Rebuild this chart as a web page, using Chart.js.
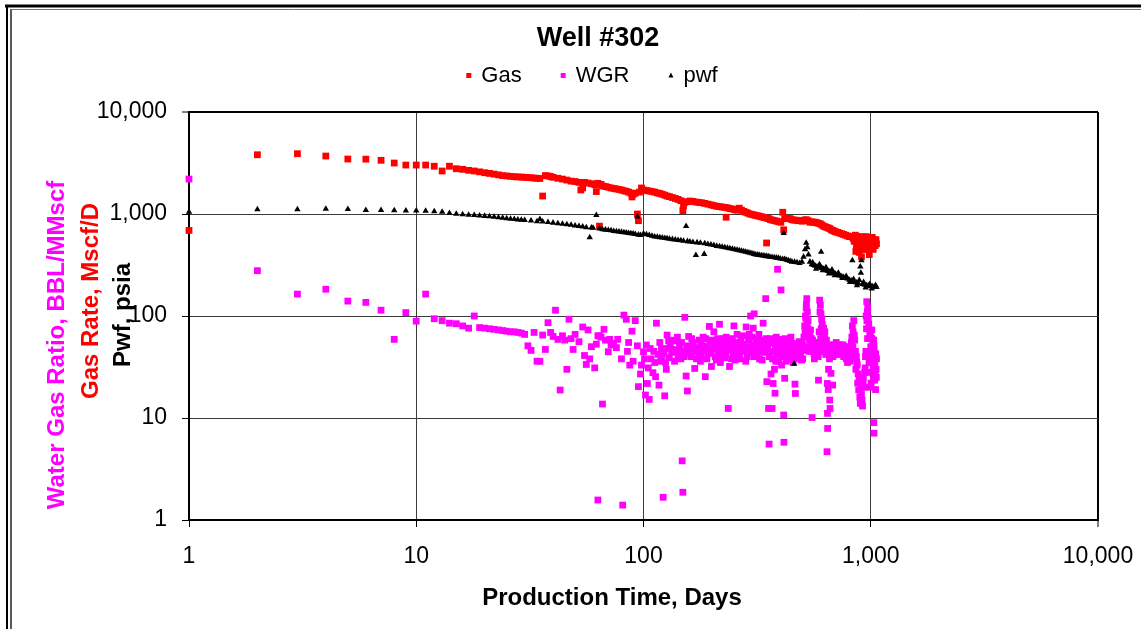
<!DOCTYPE html>
<html>
<head>
<meta charset="utf-8">
<title>Well #302</title>
<script src="https://cdn.jsdelivr.net/npm/chart.js@4.4.0/dist/chart.umd.min.js"></script>
<style>
  html, body { margin: 0; padding: 0; background: #fff; }
  #wrap { width: 1141px; height: 629px; position: relative; }
</style>
</head>
<body>
<div id="wrap"><canvas id="wellChart"></canvas></div>
<script>
// decade ticks used on both log axes
const decadeTicks = [1, 10, 100, 1000, 10000];

const chartTitle = 'Well #302';
const xAxisTitle = 'Production Time, Days';
const seriesLabels = ['Gas', 'WGR', 'pwf'];

// [production day, gas rate Mscf/D]
const gasRate = [
  [1,690],[2,3810],[3,3900],[4,3700],[5,3460],[6,3450],[7,3360],[8,3160],[9,3020],[10,3020],
  [11,3020],[12,2940],[13,2640],[14,2940],[15,2780],[16,2740],[17,2680],[18,2640],[19,2590],[20,2540],
  [21,2500],[22,2460],[23,2420],[24,2380],[25,2360],[26,2340],[27,2320],[28,2310],[29,2300],[30,2290],
  [31,2280],[32,2270],[33,2250],[34,2240],[35,2230],[36,1500],[37,2380],[38,2360],[39,2330],[40,2290],
  [42,2240],[44,2200],[46,2150],[48,2100],[50,2080],[52,2040],[53,1720],[54,1800],[55,2040],[57,2010],
  [59,1980],[61,1940],[62,1660],[63,2000],[64,760],[65,1950],[66,1880],[68,1860],[70,1830],[72,1800],
  [74,1780],[76,1760],[78,1740],[80,1720],[82,1690],[84,1670],[86,1640],[88,1600],[89,1470],[90,1560],
  [92,1600],[94,1000],[95,860],[96,1640],[98,1800],[100,1720],[103,1700],[106,1680],[109,1660],[112,1640],
  [115,1610],[118,1590],[121,1560],[124,1530],[127,1500],[130,1480],[134,1450],[138,1420],[142,1390],[146,1350],
  [149,1080],[150,1200],[152,1300],[156,1320],[160,1340],[165,1330],[170,1310],[175,1300],[180,1290],[186,1270],
  [192,1250],[198,1230],[204,1210],[210,1190],[216,1180],[222,1170],[228,1160],[231,930],[234,1150],[240,1130],
  [246,1120],[252,1100],[258,1090],[264,1140],[270,1090],[276,1060],[282,1040],[288,1020],[294,1000],[300,990],
  [306,980],[312,970],[318,960],[324,950],[330,940],[336,930],[342,920],[348,520],[350,910],[356,900],
  [362,880],[370,870],[378,860],[386,850],[394,840],[402,830],[410,1040],[414,700],[418,900],[426,910],
  [434,900],[442,900],[450,880],[460,870],[470,870],[480,860],[490,860],[500,850],[510,870],[520,880],
  [530,860],[540,830],[550,840],[560,830],[570,830],[580,820],[590,810],[600,800],[610,780],[620,760],
  [630,750],[640,740],[650,730],[660,720],[670,700],[680,690],[690,680],[700,670],[715,660],[730,650],
  [745,640],[760,630],[775,620],[790,610],[805,600],[820,600],[835,580],[845,540],[850,590],[855,620],
  [860,430],[865,500],[870,560],[875,600],[880,590],[885,480],[890,420],[895,570],[900,550],[905,520],
  [910,380],[915,600],[920,560],[925,490],[930,450],[935,580],[940,540],[945,450],[950,560],[955,600],
  [960,520],[965,470],[970,550],[975,580],[980,460],[985,400],[990,540],[995,560],[1000,530],[1005,480],
  [1010,520],[1015,590],[1020,540],[1025,450],[1030,500],[1035,560],[1040,530],[1045,490],[1050,520],[1055,560],
  [1060,510]
];

// [production day, water gas ratio BBL/MMscf]
const waterGasRatio = [
  [1,2200],[2,278],[3,164],[4,183],[5,140],[6,136],[7,114],[8,59],[9,108],[10,89],
  [11,164],[12,94],[13,90],[14,85],[15,84],[16,80],[17,76],[18,100],[19,77],[20,76],
  [21,75],[22,74],[23,73],[24,72],[25,71],[26,70],[27,70],[28,69],[29,68],[30,66],
  [31,51],[32,46],[33,69],[34,36],[35,36],[36,65],[37,47],[38,86],[39,69],[40,63],
  [41,114],[42,59],[43,18.8],[44,64],[45,58],[46,30],[47,93],[48,60],[49,47],[50,66],
  [52,56],[54,78],[55,41],[56,33.5],[57,73],[58,38],[59,50],[61,31],[62,53],[63,64],
  [63,1.57],[64,64],[65,62],[66,13.7],[67,74],[68,58],[70,44.6],[71,59],[72,52],[74,54],
  [76,49],[77,59],[80,38],[81,1.4],[82,102],[84,93],[85,45],[86,55],[87,33],[89,71],
  [90,36],[92,90],[94,51],[95,20.3],[97,27],[98,33],[100,44.6],
  [101,38],[102,16.8],[103,52],[104,21.8],[105,31],[106,15.2],[107,48],[108,38],[110,27.8],[111,45],
  [112,35],[113,25.4],[114,85],[116,42],[117,21],[118,55],[119,36],[120,48],[121,41],[122,1.67],
  [123,44],[124,16.5],[125,35],[126,30],[127,65],[128,48],[129,57],[130,39],[131,50],[133,44],
  [134,47],[136,58],[137,36],[138,46],[140,57],[141,62],[142,41],[144,52],[145,46],[146,38],
  [147,55],[148,3.8],[149,1.87],[150,44],[151,40],[152,97],[154,25.8],[155,51],[156,18.4],[158,63],
  [159,43],[160,48],[162,40],[163,60],[165,55],[167,47],[168,30.6],[170,45],[171,38],[173,49],
  [175,44],[176,58],[178,36],[179,53],[180,41],[182,47],[183,62],[185,51],[187,25.4],[188,60],
  [190,38],[191,50],[193,44],[195,79],[196,43],[197,56],[199,32],[200,58],[202,47],[204,70],
  [205,52],[207,40],[209,37],[210,49],[212,60],[213,47],[215,43],[216,83],[217,55],[218,35],
  [220,52],[221,40],[223,45],[225,60],[226,50],[228,39],[230,42],[231,62],[233,55],[235,46],
  [236,12.4],[239,32],[240,52],[242,48],[244,38],[245,60],[247,56],[248,42],[250,80],[252,45],
  [253,37],[255,48],[257,52],[258,66],[260,40],[262,55],[264,44],[266,38],[268,57],[270,50],
  [272,47],[273,64],[276,45],[278,53],[280,49],[282,36],[283,78],[286,40],[288,50],[290,58],
  [292,66],[293,47],[296,100],[298,44],[300,62],[302,52],[304,76],[306,40],[307,105],[310,44],
  [312,55],[314,48],[316,42],[318,52],[319,60],[322,66],[324,38],[326,46],[328,58],[330,49],
  [333,37],[334,45],[336,85],[338,52],[340,55],[342,44],[345,148],[347,60],[349,22.7],[352,48],
  [355,12.4],[357,5.55],[358,40],
  [361,54],[362,60],[364,27],[366,45],[368,12.4],[370,38],[372,21.8],[374,55],[375,45],[377,30],
  [379,17.5],[381,48],[382,36],[384,62],[386,52],[388,44],[389,287],[391,55],[392,42],[394,36],
  [396,58],[398,47],[400,59],[402,52],[403,180],[405,33],[406,41],[408,58],[410,48],[412,45],
  [414,10.7],[415,5.78],[416,40],[418,24.5],[420,60],[422,50],[424,36],[427,43],[429,48],[432,55],
  [434,44],[436,38],[438,52],[440,40],[443,47],[445,62],[448,38],[450,45],[452,54],[455,35],
  [457,42],[460,50],[462,46],[464,21.5],[466,17.4],[468,52],[470,42],[472,38],[475,48],[478,50],
  [480,43],[482,45],[485,56],[488,47],[490,39],[492,42],[496,37],[498,55],[500,52],[502,38],
  [504,46],[506,48],[508,62],[512,80],
  [514,70],[516,100],[518,95],[520,120],[521,130],[523,148],[524,85],[526,110],[528,75],[530,90],
  [532,50],[534,66],[536,45],[538,58],[540,62],[543,73],[545,50],[548,60],[550,45],[552,10.1],
  [555,58],[558,53],[560,50],[563,43],[565,38],[568,47],[570,55],[574,40],[577,45],[580,52],
  [583,50],[585,45],[587,40],[589,23.5],[592,55],[593,70],[596,143],[598,110],[600,128],[602,60],
  [604,105],[606,75],[608,93],[610,48],[612,82],[614,60],[616,70],[618,52],[620,76],[624,45],
  [626,62],[628,70],[632,55],[634,42],[636,48],[638,58],[640,48],[642,4.67],[644,21.8],[645,11.1],
  [646,7.9],[648,45],[650,19],[652,30],[655,42],[658,38],[660,15],[662,12.4],[664,48],[665,52],
  [668,27.4],[670,52],[672,43],[676,45],[680,21],[682,40],[685,46],[688,48],[690,50],[694,52],
  [698,44],[700,46],
  [705,55],[708,42],[710,50],[714,50],[718,42],[720,47],[725,48],[728,52],[730,46],[735,44],
  [740,52],[745,48],[750,44],[755,52],[760,40],[765,45],[770,47],[775,42],[780,38],[785,50],
  [790,35],[795,40],[798,45],[802,44],[805,38],[808,36],[812,50],[816,48],[820,42],[822,55],
  [826,62],[830,80],[834,50],[836,70],[838,45],[842,90],[846,65],[850,58],[852,38],[856,45],
  [860,30],[865,40],[868,35],[872,33],[876,22],[880,27],[885,18.8],[890,24],[895,16],[900,13.9],
  [905,20],[910,17],[915,15],[920,13.1],[925,22],[928,25],[935,20],[940,28],[945,31],[948,40],
  [952,45],[955,100],[958,75],[960,138],[962,90],[965,110],[968,60],[970,120],[975,95],[978,45],
  [980,83],[983,35],[985,60],[988,42],[990,68],[993,28],[995,20],[998,62],[1000,50],[1003,22],
  [1005,40],[1008,45],[1010,73],[1012,60],[1015,35],[1018,38],[1020,55],[1022,48],[1025,31],[1028,25],
  [1030,58],[1032,9.0],[1034,7.1],[1035,50],[1038,40],[1040,23.5],[1042,35],[1045,43],[1048,28],[1050,19],
  [1052,42],[1055,30],[1058,25],[1060,38]
];

// [production day, flowing bottomhole pressure psia]
const pwfPressure = [
  [1,1050],[2,1110],[3,1110],[4,1120],[5,1115],[6,1090],[7,1090],[8,1085],[9,1080],[10,1080],
  [11,1070],[12,1060],[13,1050],[14,1020],[15,1000],[16,990],[17,980],[18,975],[19,965],[20,955],
  [21,945],[22,935],[23,925],[24,915],[25,905],[26,895],[27,890],[28,880],[29,875],[30,870],
  [32,860],[34,845],[35,890],[36,840],[38,830],[40,820],[42,810],[44,800],[46,790],[48,780],
  [50,770],[52,760],[54,750],[56,740],[58,590],[59,735],[60,730],[62,975],[64,720],[66,705],
  [68,700],[70,695],[72,690],[74,680],[76,675],[78,670],[80,665],[82,660],[84,655],[86,650],
  [88,645],[90,640],[92,635],[94,940],[95,625],[97,620],[100,640],[103,630],[106,620],[109,610],
  [112,600],[115,595],[118,590],[121,585],[124,580],[127,575],[130,570],[134,565],[138,560],[142,555],
  [146,550],[150,545],[154,760],[156,540],[160,535],[165,530],[170,395],[172,525],[178,520],[185,405],
  [186,515],[192,505],[198,500],[204,495],[210,485],[216,480],[222,475],[228,470],[234,465],[240,460],
  [246,455],[252,450],[258,445],[264,440],[270,435],[276,430],[282,425],[288,420],[294,415],[300,410],
  [306,405],[312,400],[318,398],[324,395],[330,392],[336,390],[342,388],[348,385],[354,383],[360,380],
  [368,378],[376,375],[384,372],[392,370],[400,365],[410,360],[414,648],[418,360],[426,355],[434,350],
  [442,345],[450,340],[460,34],[462,338],[474,335],[486,330],[498,340],[506,380],[514,450],[520,520],
  [526,470],[532,400],[540,340],[550,320],[555,335],[560,315],[570,310],[575,290],[580,305],[590,300],
  [595,320],[600,305],[605,425],[610,295],[615,280],[620,290],[630,285],[635,300],[640,280],[650,275],
  [655,260],[660,272],[670,268],[675,285],[680,265],[690,262],[695,250],[700,258],[715,252],[720,265],
  [730,248],[745,244],[750,235],[760,240],[775,236],[780,245],[790,232],[805,226],[810,215],[820,222],
  [830,350],[835,218],[840,230],[850,215],[865,212],[870,200],[880,210],[890,225],[900,305],[905,265],
  [910,350],[920,205],[930,215],[940,202],[950,190],[960,200],[980,198],[990,205],[1000,196],[1010,185],
  [1020,195],[1040,193],[1050,200],[1060,192]
];

const fontFamily = "'Liberation Sans', Arial, Helvetica, sans-serif";
Chart.defaults.font.family = fontFamily;
Chart.defaults.color = '#000';

const toXY = rows => rows.map(([day, value]) => ({ x: day, y: value }));
const fmtTick = value => Number(value).toLocaleString('en-US');

// grid: thin dark lines inside, heavier line on the far edge of each axis
const gridColor = c => (c.tick && c.tick.value === 10000 ? '#000' : '#3c3c3c');
const gridWidth = c => (c.tick && c.tick.value === 10000 ? 2 : 1);

function decadeOnly(scale) {
    scale.ticks = decadeTicks.map(v => ({ value: v }));
}

// frame, title, legend and axis titles drawn straight onto the canvas
const wellDecor = {
    id: 'wellDecor',
    afterDraw(chart) {
        const ctx = chart.ctx;
        const w = chart.width;
        const h = chart.height;
        ctx.save();

        // outer frame (double line on the left, heavy rule on top)
        ctx.strokeStyle = '#000';
        ctx.lineWidth = 3;
        ctx.beginPath();
        ctx.moveTo(5, 6);
        ctx.lineTo(w, 6);
        ctx.stroke();
        ctx.lineWidth = 2;
        ctx.beginPath();
        ctx.moveTo(7, 5);
        ctx.lineTo(7, h);
        ctx.stroke();
        ctx.lineWidth = 1.5;
        ctx.strokeStyle = '#222';
        ctx.beginPath();
        ctx.moveTo(11, 9);
        ctx.lineTo(11, h);
        ctx.stroke();
        ctx.lineWidth = 1;
        ctx.strokeStyle = '#777';
        ctx.beginPath();
        ctx.moveTo(11, 9.5);
        ctx.lineTo(w, 9.5);
        ctx.stroke();

        // title
        ctx.fillStyle = '#000';
        ctx.textAlign = 'center';
        ctx.textBaseline = 'middle';
        ctx.font = 'bold 27px ' + fontFamily;
        ctx.fillText(chartTitle, 598, 39);

        // legend row
        ctx.font = '22px ' + fontFamily;
        ctx.textAlign = 'left';
        const box = 5, gap = 10, itemGap = 39;
        const items = chart.data.datasets.map(ds => ({
            text: ds.label,
            color: ds.backgroundColor,
            style: ds.pointStyle,
            width: box + gap + ctx.measureText(ds.label).width
        }));
        const total = items.reduce((s, it) => s + it.width, 0) + itemGap * (items.length - 1);
        let lx = 592 - total / 2;
        const ly = 76;
        items.forEach(it => {
            ctx.fillStyle = it.color;
            if (it.style === 'triangle') {
                ctx.beginPath();
                ctx.moveTo(lx + box / 2, ly - 3.5);
                ctx.lineTo(lx + box, ly + 1.5);
                ctx.lineTo(lx, ly + 1.5);
                ctx.closePath();
                ctx.fill();
            } else {
                ctx.fillRect(lx, ly - 3, box, box);
            }
            ctx.fillStyle = '#000';
            ctx.fillText(it.text, lx + box + gap, ly);
            lx += it.width + itemGap;
        });

        // x axis title
        ctx.textAlign = 'center';
        ctx.font = 'bold 24px ' + fontFamily;
        ctx.fillText(xAxisTitle, 612, 598);

        // stacked y axis titles, one colour per series
        const yTitles = [
            { text: 'Water Gas Ratio, BBL/MMscf', color: '#ff00ff', x: 57, y: 345 },
            { text: 'Gas Rate, Mscf/D', color: '#ff0000', x: 91, y: 301 },
            { text: 'Pwf, psia', color: '#000000', x: 123, y: 315 }
        ];
        yTitles.forEach(t => {
            ctx.save();
            ctx.translate(t.x, t.y);
            ctx.rotate(-Math.PI / 2);
            ctx.fillStyle = t.color;
            ctx.fillText(t.text, 0, 0);
            ctx.restore();
        });

        ctx.restore();
    }
};

const ctx = document.getElementById('wellChart').getContext('2d');
const wellChart = new Chart(ctx, {
    type: 'scatter',
    data: {
        datasets: [
            {
                label: seriesLabels[0],
                data: toXY(gasRate),
                pointStyle: 'rect',
                pointRadius: 4.8,
                pointBorderWidth: 0,
                backgroundColor: '#ff0000',
                borderColor: '#ff0000',
                clip: false,
                order: 3
            },
            {
                label: seriesLabels[1],
                data: toXY(waterGasRatio),
                pointStyle: 'rect',
                pointRadius: 4.8,
                pointBorderWidth: 0,
                backgroundColor: '#ff00ff',
                borderColor: '#ff00ff',
                clip: false,
                order: 2
            },
            {
                label: seriesLabels[2],
                data: toXY(pwfPressure),
                pointStyle: 'triangle',
                pointRadius: 3.7,
                pointBorderWidth: 0,
                backgroundColor: '#000000',
                borderColor: '#000000',
                clip: false,
                order: 1
            }
        ]
    },
    options: {
        responsive: true,
        maintainAspectRatio: false,
        animation: false,
        events: [],
        layout: {
            padding: { top: 112, right: 43, bottom: 0, left: 0 }
        },
        plugins: {
            title: { display: false },
            legend: { display: false },
            tooltip: { enabled: false }
        },
        scales: {
            x: {
                type: 'logarithmic',
                position: 'bottom',
                min: 1,
                max: 10000,
                afterBuildTicks: decadeOnly,
                afterFit: scale => {
                    scale.height = 109;
                    scale.paddingLeft = 0;
                    scale.paddingRight = 0;
                },
                ticks: {
                    callback: fmtTick,
                    autoSkip: false,
                    maxRotation: 0,
                    padding: 16,
                    font: { size: 23 },
                    color: '#000'
                },
                grid: {
                    color: gridColor,
                    lineWidth: gridWidth,
                    tickLength: 7,
                    tickColor: '#000',
                    tickWidth: 1
                },
                border: { display: true, color: '#000', width: 2 }
            },
            y: {
                type: 'logarithmic',
                position: 'left',
                min: 1,
                max: 10000,
                afterBuildTicks: decadeOnly,
                afterFit: scale => { scale.width = 189; },
                ticks: {
                    callback: fmtTick,
                    autoSkip: false,
                    padding: 15,
                    font: { size: 23 },
                    color: '#000'
                },
                grid: {
                    color: gridColor,
                    lineWidth: gridWidth,
                    tickLength: 7,
                    tickColor: '#000',
                    tickWidth: 1
                },
                border: { display: true, color: '#000', width: 2 }
            }
        }
    },
    plugins: [wellDecor]
});
</script>
</body>
</html>
